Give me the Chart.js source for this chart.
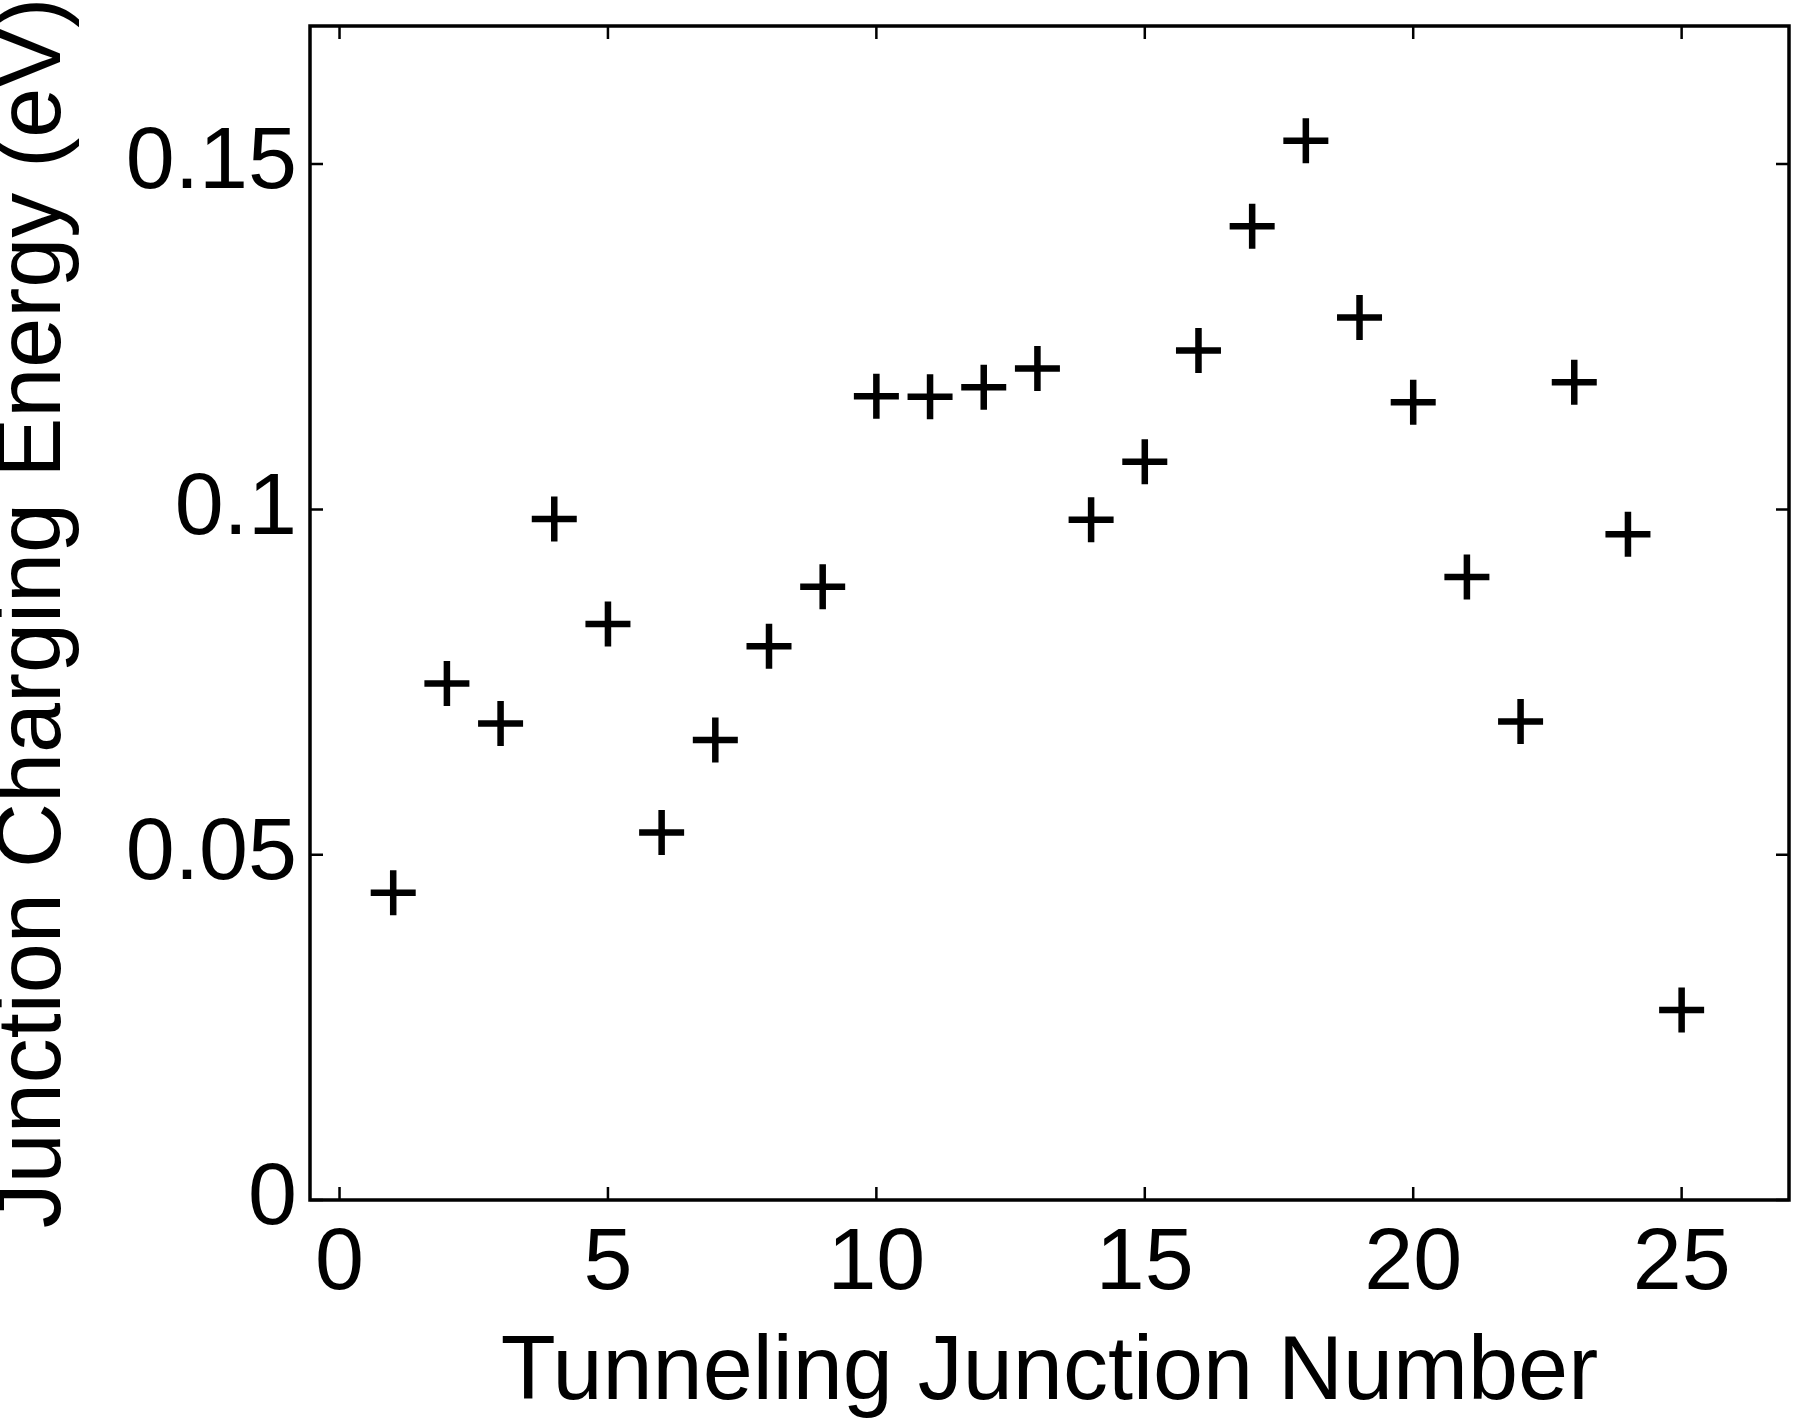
<!DOCTYPE html>
<html>
<head>
<meta charset="utf-8">
<script src="https://cdn.jsdelivr.net/npm/chart.js@4.4.1/dist/chart.umd.min.js"></script>
<style>
    html, body { margin: 0; padding: 0; background: #fff; overflow: hidden; }
    #wrap { width: 1800px; height: 1422px; position: relative; }
    #junctionChart { display: block; }
</style>
</head>
<body>
<div id="wrap"><canvas id="junctionChart"></canvas></div>
<script>
// junction index and charging energy (eV)
let junctionNumbers = [1, 2, 3, 4, 5, 6, 7, 8, 9, 10, 11, 12, 13, 14, 15, 16, 17, 18, 19, 20, 21, 22, 23, 24, 25];
let chargingEnergy = [0.0445, 0.0748, 0.0690, 0.0986, 0.0834, 0.0532, 0.0666, 0.0802, 0.0888, 0.1164,
    0.1163, 0.1177, 0.1204, 0.0985, 0.1069, 0.1230, 0.1410, 0.1534, 0.1278, 0.1155,
    0.0902, 0.0693, 0.1184, 0.0964, 0.0275];
let xTicks = [0, 5, 10, 15, 20, 25];
let xTickLabels = ['0', '5', '10', '15', '20', '25'];
let yTicks = [0, 0.05, 0.1, 0.15];
let yTickLabels = ['0', '0.05', '0.1', '0.15'];

const fontFamily = "'Liberation Sans', Arial, Helvetica, sans-serif";

// matlab style box with inward ticks on all four sides
const boxPlugin = {
    id: 'matlabBox',
    afterDraw(chart) {
        const ctx = chart.ctx;
        const area = chart.chartArea;
        const xs = chart.scales.x;
        const ys = chart.scales.y;
        const tickLen = 13;
        ctx.save();
        ctx.strokeStyle = '#000';
        ctx.lineWidth = 2.5;
        ctx.beginPath();
        xTicks.forEach(v => {
            const px = xs.getPixelForValue(v);
            ctx.moveTo(px, area.bottom);
            ctx.lineTo(px, area.bottom - tickLen);
            ctx.moveTo(px, area.top);
            ctx.lineTo(px, area.top + tickLen);
        });
        yTicks.forEach(v => {
            const py = ys.getPixelForValue(v);
            ctx.moveTo(area.left, py);
            ctx.lineTo(area.left + tickLen, py);
            ctx.moveTo(area.right, py);
            ctx.lineTo(area.right - tickLen, py);
        });
        ctx.stroke();
        ctx.lineWidth = 3.5;
        ctx.strokeRect(area.left, area.top, area.right - area.left, area.bottom - area.top);
        ctx.restore();
    }
};

// no extra room for labels, the box fills the space
function noPadding(scale) {
    scale.paddingLeft = 0;
    scale.paddingRight = 0;
    scale.paddingTop = 0;
    scale.paddingBottom = 0;
}

new Chart(
    document.getElementById('junctionChart'),
    {
        type: 'scatter',
        data: {
            datasets: [
                {
                    label: 'Charging energy',
                    data: junctionNumbers.map((n, i) => ({ x: n, y: chargingEnergy[i] })),
                    pointStyle: 'cross',
                    pointRadius: 22.5,
                    pointBorderWidth: 6.5,
                    borderColor: '#000',
                    backgroundColor: '#000',
                    showLine: false,
                }
            ]
        },
        options: {
            responsive: true,
            maintainAspectRatio: false,
            animation: false,
            events: [],
            layout: {
                autoPadding: false,
                padding: { top: 26, right: 11, left: 0, bottom: 0 }
            },
            plugins: {
                legend: { display: false },
                tooltip: { enabled: false },
            },
            scales: {
                x: {
                    type: 'linear',
                    min: -0.55,
                    max: 27,
                    grid: { display: false, drawTicks: false },
                    border: { display: false },
                    afterBuildTicks: scale => { scale.ticks = xTicks.map(v => ({ value: v })); },
                    afterFit: scale => { scale.height = 222; noPadding(scale); },
                    ticks: {
                        color: '#000',
                        padding: 21,
                        maxRotation: 0,
                        font: { family: fontFamily, size: 88, lineHeight: '88px' },
                        callback: (v, i) => xTickLabels[i],
                    },
                    title: {
                        display: true,
                        text: 'Tunneling Junction Number',
                        color: '#000',
                        padding: { top: 0, bottom: 3 },
                        font: { family: fontFamily, size: 90, lineHeight: '90px' },
                    }
                },
                y: {
                    type: 'linear',
                    min: 0,
                    max: 0.17,
                    grid: { display: false, drawTicks: false },
                    border: { display: false },
                    afterBuildTicks: scale => { scale.ticks = yTicks.map(v => ({ value: v })); },
                    afterFit: scale => { scale.width = 310; noPadding(scale); },
                    ticks: {
                        color: '#000',
                        padding: 13,
                        font: { family: fontFamily, size: 88, lineHeight: '88px' },
                        callback: (v, i) => yTickLabels[i],
                    },
                    title: {
                        display: true,
                        text: 'Junction Charging Energy (eV)',
                        color: '#000',
                        padding: { top: 0, bottom: 0 },
                        font: { family: fontFamily, size: 90, lineHeight: '70px' },
                    }
                }
            },
        },
        plugins: [boxPlugin]
    }
);
</script>
</body>
</html>
